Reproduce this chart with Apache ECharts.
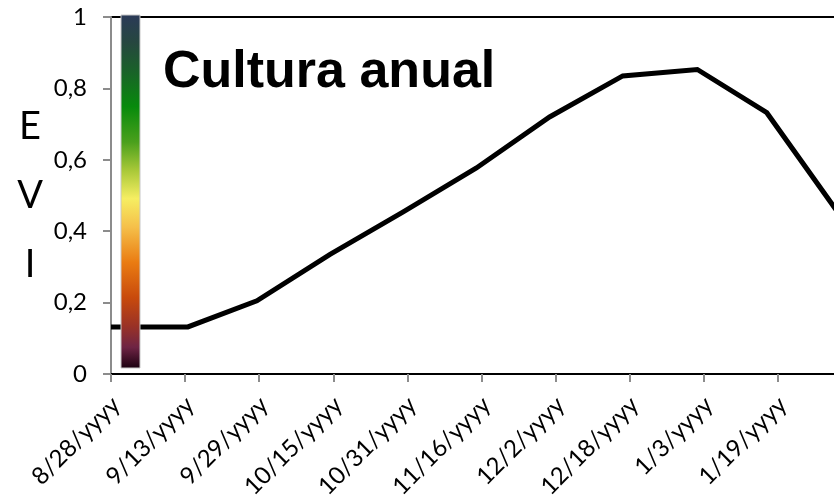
<!DOCTYPE html>
<html>
<head>
<meta charset="utf-8">
<script src="https://cdn.jsdelivr.net/npm/echarts@6/dist/echarts.min.js"></script>
<style>html,body{margin:0;padding:0;background:#fff}#c{width:834px;height:496px}</style>
</head>
<body>
<div id="c"></div>
<script>
// Days since 8/28 of each composite date, and its EVI value
const dayOffsets = [0, 16.6, 31.5, 47.3, 63.1, 78.9, 94.7, 110.5, 126.6, 141.6, 157];
const eviValues  = [0.132, 0.132, 0.205, 0.335, 0.454, 0.577, 0.72, 0.835, 0.853, 0.732, 0.452];
const tickLabels = ['8/28/yyyy','9/13/yyyy','9/29/yyyy','10/15/yyyy','10/31/yyyy','11/16/yyyy','12/2/yyyy','12/18/yyyy','1/3/yyyy','1/19/yyyy'];
const yTicks = [0, 0.2, 0.4, 0.6, 0.8, 1];
const titleText = 'Cultura anual';
const axisNameText = 'E\nV\nI';

const chart = echarts.init(document.getElementById('c'), null, {renderer: 'canvas'});
const seriesData = dayOffsets.map((d, i) => [d, eviValues[i]]);

chart.setOption({
  animation: false,
  backgroundColor: '#fff',
  grid: {left: 111, top: 17, bottom: 122, width: 741, outerBoundsMode: 'none', containLabel: false,
         show: true, borderColor: '#000', borderWidth: 2, backgroundColor: 'transparent'},
  xAxis: {
    type: 'value', min: 0, max: 160, interval: 16,
    splitLine: {show: false},
    axisLine: {show: true, onZero: false, lineStyle: {color: '#000', width: 2}},
    axisTick: {show: true, length: 8, lineStyle: {color: '#8c8c8c', width: 2}},
    axisLabel: {
      rotate: 45, margin: 15, color: '#000', fontFamily: 'Lato', fontSize: 24,
      align: 'right', verticalAlign: 'top', padding: [0, 5, 0, 0],
      showMaxLabel: false,
      formatter: v => { const i = Math.round(v / 16); return i < tickLabels.length ? tickLabels[i] : ''; }
    }
  },
  yAxis: {
    type: 'value', min: yTicks[0], max: yTicks[yTicks.length - 1], interval: 0.2,
    splitLine: {show: false},
    axisLine: {show: true, lineStyle: {color: '#8c8c8c', width: 2}},
    axisTick: {show: true, length: 8, lineStyle: {color: '#8c8c8c', width: 2}},
    axisLabel: {
      margin: 24, color: '#000', fontFamily: 'Lato', fontSize: 24,
      formatter: v => String(Math.round(v * 10) / 10).replace('.', ',')
    },
    name: axisNameText, nameLocation: 'middle', nameRotate: 0, nameGap: 81,
    nameTextStyle: {fontFamily: 'Lato', fontSize: 38, lineHeight: 69, color: '#000', align: 'center', verticalAlign: 'middle', padding: [0, 0, 13, 0]}
  },
  series: [{
    type: 'line', data: seriesData, showSymbol: false, symbol: 'none',
    lineStyle: {color: '#000', width: 5, join: 'miter'}, z: 2
  }],
  graphic: [
    {
      type: 'rect', z: 100,
      shape: {x: 121, y: 15, width: 19, height: 353},
      style: {
        stroke: '#c8c8c8', lineWidth: 1,
        fill: new echarts.graphic.LinearGradient(0, 0, 0, 1, [
          {offset: 0.00, color: '#2b3a58'},
          {offset: 0.08, color: '#26473f'},
          {offset: 0.15, color: '#1b5e2c'},
          {offset: 0.26, color: '#078a0c'},
          {offset: 0.36, color: '#4aa01c'},
          {offset: 0.44, color: '#a8c838'},
          {offset: 0.52, color: '#f6ee62'},
          {offset: 0.60, color: '#f5c04a'},
          {offset: 0.70, color: '#ea7c12'},
          {offset: 0.80, color: '#c84a0c'},
          {offset: 0.88, color: '#9a3226'},
          {offset: 0.94, color: '#6e2444'},
          {offset: 1.00, color: '#1a0010'}
        ])
      }
    },
    {
      type: 'text', z: 100, left: 163, top: 47,
      style: {text: titleText, fontFamily: 'Liberation Sans', fontWeight: 'bold', fontSize: 52, fill: '#000'}
    }
  ]
});
</script>
</body>
</html>
